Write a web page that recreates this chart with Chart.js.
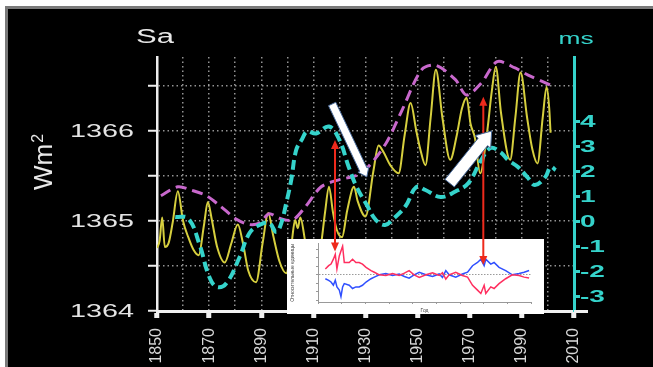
<!DOCTYPE html>
<html>
<head>
<meta charset="utf-8">
<script src="https://cdn.jsdelivr.net/npm/chart.js@4.4.1/dist/chart.umd.min.js"></script>
<style>
  body { margin: 0; background: #fff; }
  #wrap { position: relative; width: 653px; height: 367px; overflow: hidden; }
  #frame { position: absolute; left: 5px; top: 6px; width: 648px; height: 361px; background: #000;
           border-top: 3px solid #7a7a7a; border-left: 3px solid #7a7a7a; box-sizing: border-box; }
  canvas { position: absolute; }
  #main { left: 0; top: 0; }
  #inset { left: 287px; top: 239px; background: #fff; }
  #overlay { left: 0; top: 0; pointer-events: none; }
</style>
</head>
<body>
<div id="wrap">
  <div id="frame"></div>
  <canvas id="main" width="653" height="367"></canvas>
  <canvas id="inset" width="257" height="75"></canvas>
  <canvas id="overlay" width="653" height="367"></canvas>
</div>
<script>
// Sa (W/m2), yellow curve
const saYears = [1850, 1851, 1852, 1853, 1854.5, 1856, 1858, 1860, 1862, 1864, 1866, 1868, 1869.5, 1871, 1873, 1876,
  1878.5, 1881, 1883, 1885, 1888, 1890.5, 1892.7, 1894.5, 1897, 1899.6, 1901.5, 1903, 1904, 1905, 1907, 1909, 1911,
  1913, 1914.5, 1916, 1917.5, 1919, 1921, 1923, 1925.6, 1927, 1930, 1933, 1935, 1937, 1939.5, 1942.7, 1945, 1947.3,
  1949.5, 1951, 1953, 1955, 1957, 1959.5, 1962.5, 1965, 1967, 1968.8, 1970.3, 1972, 1974, 1976.5, 1978.5, 1980,
  1982, 1985.5, 1987.5, 1989.5, 1992, 1994, 1996, 1998, 1999.5, 2000.5, 2001];
const saValues = [1364.70, 1364.78, 1365.04, 1364.71, 1364.76, 1364.98, 1365.33, 1365.0, 1364.82, 1364.68, 1364.62,
  1364.95, 1365.21, 1365.02, 1364.72, 1364.54, 1364.75, 1364.96, 1364.75, 1364.45, 1364.32, 1364.75, 1365.09, 1364.85,
  1364.55, 1364.42, 1364.72, 1365.01, 1364.92, 1365.04, 1364.75, 1364.5, 1364.45, 1364.75, 1365.1, 1365.38, 1365.1,
  1364.9, 1364.82, 1365.12, 1365.38, 1365.22, 1365.05, 1365.55, 1365.84, 1365.76, 1365.62, 1365.53, 1365.95, 1366.31,
  1366.0, 1365.8, 1365.62, 1366.15, 1366.68, 1366.15, 1365.68, 1365.95, 1366.25, 1366.37, 1366.08, 1365.92, 1365.53,
  1365.95, 1366.45, 1366.71, 1366.2, 1365.68, 1366.15, 1366.65, 1366.15, 1365.8, 1365.64, 1366.15, 1366.49, 1366.25,
  1365.98];

// envelope, magenta dashed
const envYears = [1851.5, 1858, 1863.5, 1869, 1874.5, 1880.5, 1885.5, 1889.5, 1893, 1897, 1902, 1907, 1913, 1920,
  1926, 1931, 1938, 1944, 1951.5, 1957, 1964.5, 1968.7, 1974.4, 1980.5, 1987.4, 1992.4, 2001];
const envValues = [1365.28, 1365.38, 1365.34, 1365.28, 1365.16, 1365.02, 1364.96, 1364.98, 1365.08, 1365.03,
  1365.01, 1365.16, 1365.38, 1365.46, 1365.5, 1365.6, 1365.87, 1366.23, 1366.68, 1366.73, 1366.57, 1366.4, 1366.53,
  1366.77, 1366.7, 1366.62, 1366.51];

// length of day (ms), cyan dashed
const lodYears = [1857, 1862, 1866.4, 1870, 1873, 1876.7, 1881.7, 1885.5, 1889.3, 1893, 1895.8, 1897.7, 1899.6,
  1901.5, 1903.4, 1905.7, 1907.6, 1911, 1916, 1920, 1923.5, 1926.5, 1930.5, 1934, 1937.5, 1941, 1945.4, 1949.5, 1953,
  1958.8, 1964.5, 1969.5, 1974.4, 1978, 1981.7, 1984.7, 1988.5, 1992.4, 1995, 1999, 2001, 2003];
const lodValues = [0.18, 0.12, -0.95, -2.2, -2.62, -2.46, -1.42, -0.46, -0.14, -0.06, -0.42, -0.06, 0.74, 1.66,
  2.86, 3.3, 3.6, 3.52, 3.8, 3.26, 2.2, 1.4, 0.66, 0.06, -0.14, 0.14, 0.62, 1.38, 1.26, 0.98, 1.2, 1.54, 2.46, 2.94,
  2.78, 2.46, 2.18, 1.74, 1.46, 1.78, 2.18, 2.06];

// axes
const gridYears = [1850, 1860, 1870, 1880, 1890, 1900, 1910, 1920, 1930, 1940, 1950, 1960, 1970, 1980, 1990, 2000, 2010];
const labelYears = [1850, 1870, 1890, 1910, 1930, 1950, 1970, 1990, 2010];
const wmTicks = [1364, 1364.5, 1365, 1365.5, 1366, 1366.5];
const msTicks = [-3, -2, -1, 0, 1, 2, 3, 4];

// inset (red / blue)
const insetYears = [1913.1, 1914.5, 1915.5, 1916.5, 1917.3, 1918.0, 1919.0, 1919.7, 1920.4, 1921.1, 1923.2, 1924.6,
  1926.0, 1927.4, 1928.8, 1930.3, 1932.4, 1933.8, 1935.9, 1938.7, 1941.5, 1944.3, 1946.5, 1948.5, 1950.6, 1952.8,
  1955.6, 1958.4, 1961.2, 1962.6, 1964.0, 1965.4, 1968.2, 1971.0, 1973.2, 1975.3, 1977.4, 1978.8, 1980.2, 1980.9,
  1983.0, 1984.4, 1986.5, 1989.3, 1992.1, 1995.0, 1997.1, 1999.2];
const insetRed = [1138, 1215, 1253, 1368, 1483, 1138, 1444, 1560, 1674, 1291, 1291, 1368, 1291, 1291, 1253, 1176,
  1100, 1061, 1000, 985, 1030, 985, 1040, 1100, 1000, 940, 1000, 1050, 985, 1050, 900, 1000, 1061, 985, 946, 754,
  639, 562, 754, 562, 716, 678, 793, 908, 1000, 985, 946, 923];
const insetBlue = [908, 870, 831, 754, 870, 716, 639, 485, 716, 793, 754, 678, 716, 716, 754, 831, 908, 946, 1000,
  1030, 985, 1020, 960, 920, 1000, 1061, 1000, 960, 1020, 940, 1100, 1000, 946, 1020, 1061, 1215, 1291, 1368, 1215,
  1368, 1253, 1291, 1176, 1100, 1000, 1030, 1061, 1100];
const insetXTicks = [1910, 1920, 1930, 1940, 1950, 1960, 1970, 1980, 1990, 2000];
const insetYTicks = [400, 600, 800, 1000, 1200, 1400, 1600];

// annotations, in data units (year, W/m2)
const redArrows = [
  { year: 1918.3, top: 1365.9, bottom: 1364.66 },
  { year: 1975.2, top: 1366.38, bottom: 1364.51 },
];
const whiteArrows = [
  { from: [1917.2, 1366.3], to: [1930.5, 1365.49] },
  { from: [1962.3, 1365.42], to: [1978.4, 1366.0] },
];

const FONT = '"Liberation Sans", Arial, sans-serif';
const CYAN = '#35d3cb';

const toPoints = (xs, ys) => xs.map((x, i) => ({ x: x, y: ys[i] }));

// the source picture is stretched sideways, so the text is too
function wideText(ctx, t, x, y, align, sx) {
  ctx.save();
  ctx.translate(x, y);
  ctx.scale(sx, 1);
  ctx.textAlign = align;
  ctx.fillText(t, 0, 0);
  ctx.restore();
}

const textPlugin = {
  id: 'texts',
  afterDraw(chart) {
    const ctx = chart.ctx;
    const xs = chart.scales.x, yl = chart.scales.y, yr = chart.scales.y1;
    ctx.save();
    ctx.textBaseline = 'middle';

    ctx.fillStyle = '#e4e4e4';
    ctx.font = '18px ' + FONT;
    wmTicks.filter((v) => v % 1 === 0).forEach((v) => {
      wideText(ctx, String(v), 134, yl.getPixelForValue(v) + 1, 'right', 1.6);
    });

    ctx.fillStyle = CYAN;
    ctx.font = 'bold 16px ' + FONT;
    msTicks.forEach((v) => {
      wideText(ctx, String(v), 580, yr.getPixelForValue(v) + 1, 'left', 1.75);
    });

    // rotated year labels
    ctx.fillStyle = '#d8d8d8';
    ctx.font = '16px ' + FONT;
    labelYears.forEach((v) => {
      ctx.save();
      ctx.translate(xs.getPixelForValue(v), 328);
      ctx.rotate(-Math.PI / 2);
      ctx.textAlign = 'right';
      ctx.fillText(String(v), 0, 0);
      ctx.restore();
    });

    ctx.textBaseline = 'alphabetic';
    ctx.fillStyle = '#e8e8e8';
    ctx.font = '20px ' + FONT;
    wideText(ctx, 'Sa', 136, 43, 'left', 1.55);

    ctx.fillStyle = CYAN;
    ctx.font = '17px ' + FONT;
    wideText(ctx, 'ms', 576, 44, 'center', 1.55);

    // Wm2 axis title
    ctx.fillStyle = '#e8e8e8';
    ctx.save();
    ctx.translate(52, 190);
    ctx.rotate(-Math.PI / 2);
    ctx.font = '26px ' + FONT;
    ctx.textAlign = 'left';
    ctx.fillText('Wm', 0, 0);
    const w = ctx.measureText('Wm').width;
    ctx.font = '16px ' + FONT;
    ctx.fillText('2', w + 1, -9);
    ctx.restore();

    // x axis runs a bit past the ms axis
    ctx.strokeStyle = '#f0f0f0';
    ctx.lineWidth = 3;
    ctx.beginPath();
    ctx.moveTo(chart.chartArea.right, chart.chartArea.bottom + 0.5);
    ctx.lineTo(chart.chartArea.right + 14, chart.chartArea.bottom + 0.5);
    ctx.stroke();
    ctx.restore();

    drawArrows(chart);
  },
};

function drawArrows(chart) {
  const o = document.getElementById('overlay').getContext('2d');
  const xs = chart.scales.x, yl = chart.scales.y;
  o.clearRect(0, 0, 653, 367);

  // red double arrows
  o.strokeStyle = '#ee2a1c';
  o.fillStyle = '#ee2a1c';
  o.lineWidth = 2;
  redArrows.forEach((a) => {
    const x = xs.getPixelForValue(a.year);
    const y1 = yl.getPixelForValue(a.top);
    const y2 = yl.getPixelForValue(a.bottom);
    o.beginPath();
    o.moveTo(x, y1 + 6);
    o.lineTo(x, y2 - 6);
    o.stroke();
    o.beginPath();
    o.moveTo(x, y1); o.lineTo(x - 4, y1 + 9); o.lineTo(x + 4, y1 + 9); o.closePath();
    o.fill();
    o.beginPath();
    o.moveTo(x, y2); o.lineTo(x - 4, y2 - 9); o.lineTo(x + 4, y2 - 9); o.closePath();
    o.fill();
  });

  // white block arrows
  const sizes = [[4, 6, 8], [6, 10, 14]];
  whiteArrows.forEach((a, i) => {
    const [hw, hh, hl] = sizes[i];
    const x0 = xs.getPixelForValue(a.from[0]), y0 = yl.getPixelForValue(a.from[1]);
    const x1 = xs.getPixelForValue(a.to[0]), y1 = yl.getPixelForValue(a.to[1]);
    const len = Math.hypot(x1 - x0, y1 - y0);
    const ux = (x1 - x0) / len, uy = (y1 - y0) / len;
    const nx = -uy, ny = ux;
    const bx = x1 - ux * hl, by = y1 - uy * hl;
    o.beginPath();
    o.moveTo(x0 + nx * hw, y0 + ny * hw);
    o.lineTo(bx + nx * hw, by + ny * hw);
    o.lineTo(bx + nx * hh, by + ny * hh);
    o.lineTo(x1, y1);
    o.lineTo(bx - nx * hh, by - ny * hh);
    o.lineTo(bx - nx * hw, by - ny * hw);
    o.lineTo(x0 - nx * hw, y0 - ny * hw);
    o.closePath();
    o.fillStyle = '#ffffff';
    o.fill();
    o.strokeStyle = '#4a6c9c';
    o.lineWidth = 1;
    o.stroke();
  });
}

const dotted = 'rgba(185,185,185,0.8)';

new Chart(document.getElementById('main'), {
  type: 'line',
  data: {
    datasets: [
      {
        label: 'ms',
        data: toPoints(lodYears, lodValues),
        yAxisID: 'y1',
        borderColor: CYAN,
        borderWidth: 4,
        borderDash: [10, 5],
        pointRadius: 0,
        tension: 0.4,
        order: 1,
      },
      {
        label: 'envelope',
        data: toPoints(envYears, envValues),
        yAxisID: 'y',
        borderColor: '#c868cc',
        borderWidth: 3,
        borderDash: [11, 6],
        pointRadius: 0,
        tension: 0.3,
        order: 2,
      },
      {
        label: 'Sa',
        data: toPoints(saYears, saValues),
        yAxisID: 'y',
        borderColor: '#d6cf3e',
        borderWidth: 2,
        pointRadius: 0,
        cubicInterpolationMode: 'monotone',
        order: 3,
      },
    ],
  },
  options: {
    responsive: false,
    animation: false,
    devicePixelRatio: 1,
    layout: { padding: { left: 157, right: 79, top: 57, bottom: 56 } },
    plugins: { legend: { display: false }, tooltip: { enabled: false } },
    scales: {
      x: {
        type: 'linear',
        min: 1850,
        max: 2010,
        afterBuildTicks: (s) => { s.ticks = gridYears.map((v) => ({ value: v })); },
        afterFit: (s) => { s.height = 0; },
        ticks: { display: false },
        border: { color: '#f0f0f0', width: 3, dash: [1.5, 3] },
        grid: {
          color: (c) => (c.tick && c.tick.value > 1850 && c.tick.value < 2010 ? dotted : 'transparent'),
          lineWidth: 1.5,
          tickLength: 7,
          tickWidth: 5,
          tickColor: (c) => (c.tick && labelYears.includes(c.tick.value) ? '#f0f0f0' : 'transparent'),
        },
      },
      y: {
        position: 'left',
        min: 1364,
        max: 1366.822,
        afterBuildTicks: (s) => { s.ticks = wmTicks.map((v) => ({ value: v })); },
        afterFit: (s) => { s.width = 0; },
        ticks: { display: false },
        border: { color: '#eeeeee', width: 2.5, dash: [1.5, 3] },
        grid: {
          color: (c) => (c.tick && c.tick.value > 1364 ? dotted : 'transparent'),
          lineWidth: 1.5,
          tickLength: 9,
          tickWidth: 2,
          tickColor: '#eeeeee',
        },
      },
      y1: {
        position: 'right',
        min: -3.58,
        max: 6.58,
        afterBuildTicks: (s) => { s.ticks = msTicks.map((v) => ({ value: v })); },
        afterFit: (s) => { s.width = 0; },
        ticks: { display: false },
        border: { color: CYAN, width: 3 },
        grid: { drawOnChartArea: false, tickLength: 6, tickWidth: 3, tickColor: CYAN },
      },
    },
  },
  plugins: [textPlugin],
});

// small inset chart
const insetTitles = {
  id: 'insetTitles',
  afterDraw(chart) {
    const ctx = chart.ctx;
    ctx.save();
    ctx.fillStyle = '#444';
    ctx.font = '5px ' + FONT;
    ctx.textAlign = 'center';
    ctx.fillText('Год', (chart.chartArea.left + chart.chartArea.right) / 2, 73);
    ctx.translate(7, (chart.chartArea.top + chart.chartArea.bottom) / 2);
    ctx.rotate(-Math.PI / 2);
    ctx.fillText('Относительные единицы', 0, 0);
    ctx.restore();
  },
};

new Chart(document.getElementById('inset'), {
  type: 'line',
  data: {
    datasets: [
      { data: toPoints(insetYears, insetRed), borderColor: '#ff2f5f', borderWidth: 1.5, pointRadius: 0, tension: 0 },
      { data: toPoints(insetYears, insetBlue), borderColor: '#2f4fff', borderWidth: 1.5, pointRadius: 0, tension: 0 },
    ],
  },
  options: {
    responsive: false,
    animation: false,
    devicePixelRatio: 1,
    layout: { padding: { left: 31, right: 13, top: 3, bottom: 12 } },
    plugins: { legend: { display: false }, tooltip: { enabled: false } },
    scales: {
      x: {
        type: 'linear',
        min: 1910,
        max: 2000,
        afterBuildTicks: (s) => { s.ticks = insetXTicks.map((v) => ({ value: v })); },
        afterFit: (s) => { s.height = 0; },
        ticks: { font: { size: 4, family: FONT }, color: '#666', maxRotation: 0, padding: 1 },
        border: { color: '#999', width: 1 },
        grid: { color: 'transparent', tickLength: 2, tickColor: '#999' },
      },
      y: {
        min: 360,
        max: 1740,
        afterBuildTicks: (s) => { s.ticks = insetYTicks.map((v) => ({ value: v })); },
        afterFit: (s) => { s.width = 0; },
        ticks: {
          font: { size: 4, family: FONT },
          color: '#666',
          padding: 2,
          callback: (v) => (v >= 1000 ? (v / 1000).toFixed(3) : String(v)),
        },
        border: { color: '#999', width: 1, dash: [1.5, 1.5] },
        grid: {
          color: (c) => (c.tick && c.tick.value === 1000 ? '#9a9a9a' : 'transparent'),
          tickLength: 2,
          tickColor: '#999',
        },
      },
    },
  },
  plugins: [insetTitles],
});
</script>
</body>
</html>
